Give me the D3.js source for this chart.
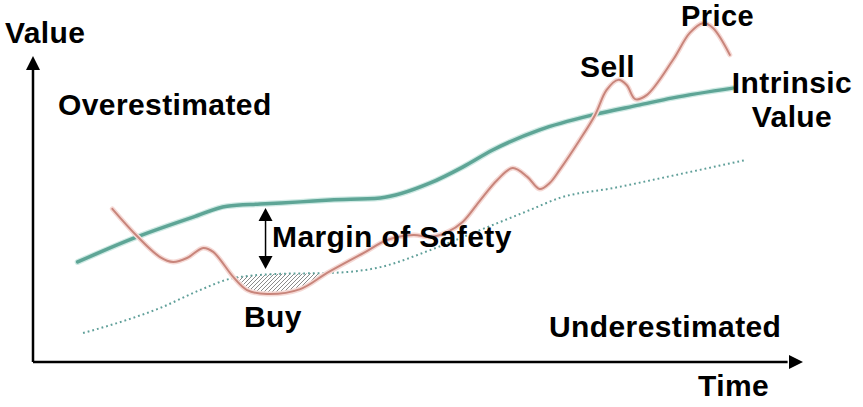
<!DOCTYPE html>
<html>
<head>
<meta charset="utf-8">
<script src="https://cdn.jsdelivr.net/npm/d3@7"></script>
<style>
  html, body { margin: 0; padding: 0; background: #ffffff; }
  svg { display: block; }
  text { font-family: "Liberation Sans", Arial, Helvetica, sans-serif; font-weight: bold; fill: #000; }
</style>
</head>
<body>
<svg id="chart" width="863" height="407"></svg>
<script>
// ---------------- data (time 0-100, value 0-100) ----------------
const intrinsicTime  = [5.8, 13.5, 20.8, 25.2, 29.5, 34.7, 38.6, 45.1, 51.6, 55.8, 59.7, 65.8, 72.7, 78.8, 83.1, 90.9];
const intrinsicValue = [32.8, 41.0, 47.5, 51.1, 51.8, 52.5, 53.1, 53.8, 58.7, 63.9, 69.5, 76.1, 81.0, 84.3, 86.6, 89.8];

const safetyTime  = [6.5, 12.2, 16.5, 21.7, 26.0, 32.1, 38.6, 45.1, 51.6, 58.1, 64.5, 68.4, 75.3, 84.0, 92.5];
const safetyValue = [9.5, 13.8, 17.7, 23.6, 27.5, 28.9, 29.2, 31.1, 36.7, 43.3, 49.8, 53.8, 57.0, 61.6, 66.2];

const priceTime  = [10.3, 13.5, 16.5, 18.2, 20.0, 22.1, 23.4, 26.0, 27.8, 30.4, 34.7, 38.2, 42.9, 46.0, 49.4, 51.6, 53.8, 55.8, 58.1, 60.3, 62.3, 64.2, 65.8, 67.1, 68.4, 71.0, 73.0, 74.5, 76.0, 77.1, 78.2, 79.7, 83.1, 85.3, 87.0, 88.3, 90.5];
const priceValue = [50.2, 41.3, 34.4, 32.8, 34.1, 37.4, 36.1, 27.9, 23.6, 22.3, 23.9, 29.2, 35.7, 40.0, 41.6, 41.0, 42.6, 45.9, 53.1, 59.7, 63.6, 60.7, 56.7, 58.7, 63.0, 72.8, 81.0, 89.2, 92.5, 90.8, 86.2, 87.5, 99.0, 107.9, 111.1, 109.5, 100.7];

// margin-of-safety annotation (time, value top, value bottom)
const marginTime = [30.2];
const marginRange = [50.5, 30.5];

const labels = ["Value", "Time", "Overestimated", "Underestimated", "Margin of Safety", "Buy", "Sell", "Price", "Intrinsic", "Value"];

// ---------------- setup ----------------
const svg = d3.select("#chart");
const x = d3.scaleLinear().domain([0, 100]).range([33, 803]);
const y = d3.scaleLinear().domain([0, 100]).range([362, 57]);

const zip = (ts, vs) => ts.map((t, i) => ({t, v: vs[i]}));
const intrinsic = zip(intrinsicTime, intrinsicValue);
const safety = zip(safetyTime, safetyValue);
const price = zip(priceTime, priceValue);

const lineGen = d3.line().x(d => x(d.t)).y(d => y(d.v)).curve(d3.curveCatmullRom.alpha(0.5));
const smoothLine = d3.line().x(d => x(d.t)).y(d => y(d.v)).curve(d3.curveMonotoneX);

const defs = svg.append("defs");
const pat = defs.append("pattern").attr("id", "hatch")
  .attr("patternUnits", "userSpaceOnUse").attr("width", 4).attr("height", 4);
pat.append("path").attr("d", "M-1,1 l2,-2 M0,4 l4,-4 M3,5 l2,-2")
  .attr("stroke", "#8a8a8a").attr("stroke-width", 1);

// clip: region below the safety (dotted) line
const belowSafety = d3.area().x(d => x(d.t)).y0(y(-20)).y1(d => y(d.v)).curve(d3.curveMonotoneX);
defs.append("clipPath").attr("id", "belowSafety")
  .append("path").attr("d", belowSafety(safety));

// hatched region: above the price line, below the safety line
const abovePrice = d3.area().x(d => x(d.t)).y0(y(130)).y1(d => y(d.v)).curve(d3.curveCatmullRom.alpha(0.5));
svg.append("path").attr("d", abovePrice(price))
  .attr("fill", "url(#hatch)").attr("clip-path", "url(#belowSafety)");

// ---------------- axes ----------------
const axisG = svg.append("g");
axisG.append("line").attr("x1", x(0)).attr("y1", y(0)).attr("x2", x(0)).attr("y2", y(96))
  .attr("stroke", "#000").attr("stroke-width", 2.5);
axisG.append("line").attr("x1", x(0)).attr("y1", y(0)).attr("x2", x(98)).attr("y2", y(0))
  .attr("stroke", "#000").attr("stroke-width", 2.5);
axisG.append("path")
  .attr("d", `M${x(0)},${y(100) - 1} L${x(0) - 7},${y(100) + 13} L${x(0) + 7},${y(100) + 13} Z`)
  .attr("fill", "#000");
axisG.append("path")
  .attr("d", `M${x(100)},${y(0)} L${x(100) - 14},${y(0) - 7} L${x(100) - 14},${y(0) + 7} Z`)
  .attr("fill", "#000");

// ---------------- series ----------------
svg.append("path").attr("d", smoothLine(safety))
  .attr("fill", "none").attr("stroke", "#5f9f99").attr("stroke-width", 2)
  .attr("stroke-dasharray", "1.8,3");

svg.append("path").attr("d", smoothLine(intrinsic))
  .attr("fill", "none").attr("stroke", "#cfeae4").attr("stroke-width", 6).attr("stroke-linecap", "round");
svg.append("path").attr("d", smoothLine(intrinsic))
  .attr("fill", "none").attr("stroke", "#5ea596").attr("stroke-width", 3.5).attr("stroke-linecap", "round");

svg.append("path").attr("d", lineGen(price))
  .attr("fill", "none").attr("stroke", "#f5d9d5").attr("stroke-width", 5).attr("stroke-linecap", "round");
svg.append("path").attr("d", lineGen(price))
  .attr("fill", "none").attr("stroke", "#c8857b").attr("stroke-width", 2).attr("stroke-linecap", "round");

// ---------------- margin arrow ----------------
const mx = x(marginTime[0]);
const yTop = y(marginRange[0]), yBot = y(marginRange[1]);
svg.append("line").attr("x1", mx).attr("x2", mx).attr("y1", yTop + 10).attr("y2", yBot - 10)
  .attr("stroke", "#000").attr("stroke-width", 1.5);
svg.append("path").attr("d", `M${mx},${yTop} L${mx - 7},${yTop + 13} L${mx + 7},${yTop + 13} Z`).attr("fill", "#000");
svg.append("path").attr("d", `M${mx},${yBot} L${mx - 7},${yBot - 13} L${mx + 7},${yBot - 13} Z`).attr("fill", "#000");

// ---------------- labels ----------------
const fs = 30;
const txt = (s, px, py, anchor, size) => svg.append("text").attr("x", px).attr("y", py)
  .attr("font-size", size || fs).attr("letter-spacing", "0.4px")
  .attr("text-anchor", anchor || "start").text(s);
txt(labels[0], 5, 43);
txt(labels[1], 698, 396);
txt(labels[2], 58, 115);
txt(labels[3], 549, 337);
txt(labels[4], 272, 247);
txt(labels[5], 244, 327);
txt(labels[6], 580, 77);
txt(labels[7], 681, 26, "start", 29);
txt(labels[8], 792, 93, "middle");
txt(labels[9], 792, 127, "middle");
</script>
</body>
</html>
